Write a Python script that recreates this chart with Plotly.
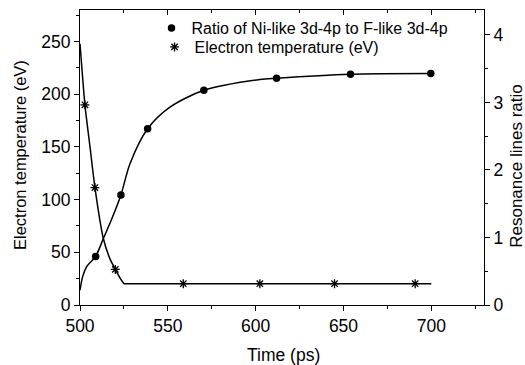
import plotly.graph_objects as go

# Measured data points
ratio_time = [508.9, 523.3, 538.5, 570.5, 611.9, 654.0, 699.7]
ratio_vals = [0.72, 1.63, 2.61, 3.18, 3.36, 3.42, 3.43]

temp_time = [502.8, 508.5, 520.1, 558.8, 602.4, 644.9, 690.8]
temp_vals = [190, 111.5, 33.8, 20.2, 20.2, 20.2, 20.2]

# Fitted curves
ratio_curve_t = [500, 501.5, 503.8, 508.9, 513.3, 518, 523.3, 528.4, 538.5, 551.2, 570.5, 602.4, 611.9, 654.0, 700]
ratio_curve_v = [0.22, 0.42, 0.57, 0.72, 0.985, 1.27, 1.63, 2.09, 2.61, 2.93, 3.18, 3.34, 3.36, 3.42, 3.43]

temp_decay_t = [500, 502.8, 505.7, 508.5, 513.3, 517, 520.1, 523, 525]
temp_decay_v = [248, 190, 150, 111.5, 63.1, 44, 33.8, 25, 20.2]
temp_flat_t = [525, 700]
temp_flat_v = [20.2, 20.2]

x_ticks = [500, 550, 600, 650, 700]
y_left_ticks = [0, 50, 100, 150, 200, 250]
y_right_ticks = [0, 1, 2, 3, 4]

FONT = "Liberation Sans, Arial, sans-serif"
TICKSIZE = 17.5

fig = go.Figure()

fig.add_trace(go.Scatter(x=temp_decay_t, y=temp_decay_v, mode="lines",
                         line=dict(color="black", width=1.5, shape="spline", smoothing=0.6),
                         showlegend=False, hoverinfo="skip"))
fig.add_trace(go.Scatter(x=temp_flat_t, y=temp_flat_v, mode="lines",
                         line=dict(color="black", width=1.5),
                         showlegend=False, hoverinfo="skip"))
fig.add_trace(go.Scatter(x=ratio_curve_t, y=ratio_curve_v, mode="lines", yaxis="y2",
                         line=dict(color="black", width=1.5, shape="spline", smoothing=0.8),
                         showlegend=False, hoverinfo="skip"))
fig.add_trace(go.Scatter(x=ratio_time, y=ratio_vals, mode="markers", yaxis="y2",
                         marker=dict(symbol="circle", size=7.5, color="black"),
                         name="Ratio of Ni-like 3d-4p to F-like 3d-4p", legend="legend"))
fig.add_trace(go.Scatter(x=temp_time, y=temp_vals, mode="markers",
                         marker=dict(symbol="asterisk-open", size=7.5, color="black",
                                     line=dict(color="black", width=1.3)),
                         name="Electron temperature (eV)", legend="legend2"))
# ensure the top axis exists
fig.add_trace(go.Scatter(x=[500], y=[0], xaxis="x2", mode="markers",
                         marker=dict(opacity=0), showlegend=False, hoverinfo="skip"))

axis_common = dict(showgrid=False, zeroline=False, showline=True, linecolor="black",
                   linewidth=1, tickcolor="black", automargin=False,
                   tickfont=dict(size=TICKSIZE, family=FONT, color="black"))

legend_common = dict(xanchor="left", yanchor="middle", bgcolor="rgba(0,0,0,0)",
                     font=dict(size=16, family=FONT, color="black"), itemwidth=30)

fig.update_layout(
    width=525, height=365,
    margin=dict(l=80, r=41, t=10, b=60),
    paper_bgcolor="white", plot_bgcolor="white",
    font=dict(family=FONT, color="black"),
    xaxis=dict(range=[500, 730], tickvals=x_ticks, ticks="outside", ticklen=5,
               minor=dict(dtick=25, tick0=500, ticks="outside", ticklen=3, tickcolor="black"),
               **axis_common),
    xaxis2=dict(range=[500, 730], overlaying="x", side="top", tickvals=x_ticks,
                ticks="inside", ticklen=5, showticklabels=False, automargin=False,
                minor=dict(dtick=25, tick0=500, ticks="inside", ticklen=3, tickcolor="black"),
                showgrid=False, zeroline=False, showline=True, linecolor="black", linewidth=1,
                tickcolor="black"),
    yaxis=dict(range=[0, 280], tickvals=y_left_ticks, ticks="outside", ticklen=5,
               minor=dict(dtick=25, tick0=0, ticks="outside", ticklen=3, tickcolor="black"),
               **axis_common),
    yaxis2=dict(range=[0, 4.37], overlaying="y", side="right", tickvals=y_right_ticks,
                ticks="outside", ticklen=5,
                minor=dict(dtick=0.5, tick0=0, ticks="outside", ticklen=3, tickcolor="black"),
                **axis_common),
    legend=dict(x=0.177, y=0.939, **legend_common),
    legend2=dict(x=0.1845, y=0.8746, **legend_common),
    annotations=[
        dict(text="Time (ps)", xref="paper", yref="paper", x=0.5025, y=-0.1695,
             xanchor="center", yanchor="middle", showarrow=False,
             font=dict(size=TICKSIZE, family=FONT, color="black")),
        dict(text="Electron temperature (eV)", xref="paper", yref="paper", x=-0.1485, y=0.5085,
             xanchor="center", yanchor="middle", textangle=-90, showarrow=False,
             font=dict(size=16.5, family=FONT, color="black")),
        dict(text="Resonance lines ratio", xref="paper", yref="paper", x=1.0785, y=0.471,
             xanchor="center", yanchor="middle", textangle=-90, showarrow=False,
             font=dict(size=17, family=FONT, color="black")),
    ],
)

fig.write_html("out.html", config={"displayModeBar": False},
               post_script="document.body.style.margin='0';document.body.style.padding='0';")
